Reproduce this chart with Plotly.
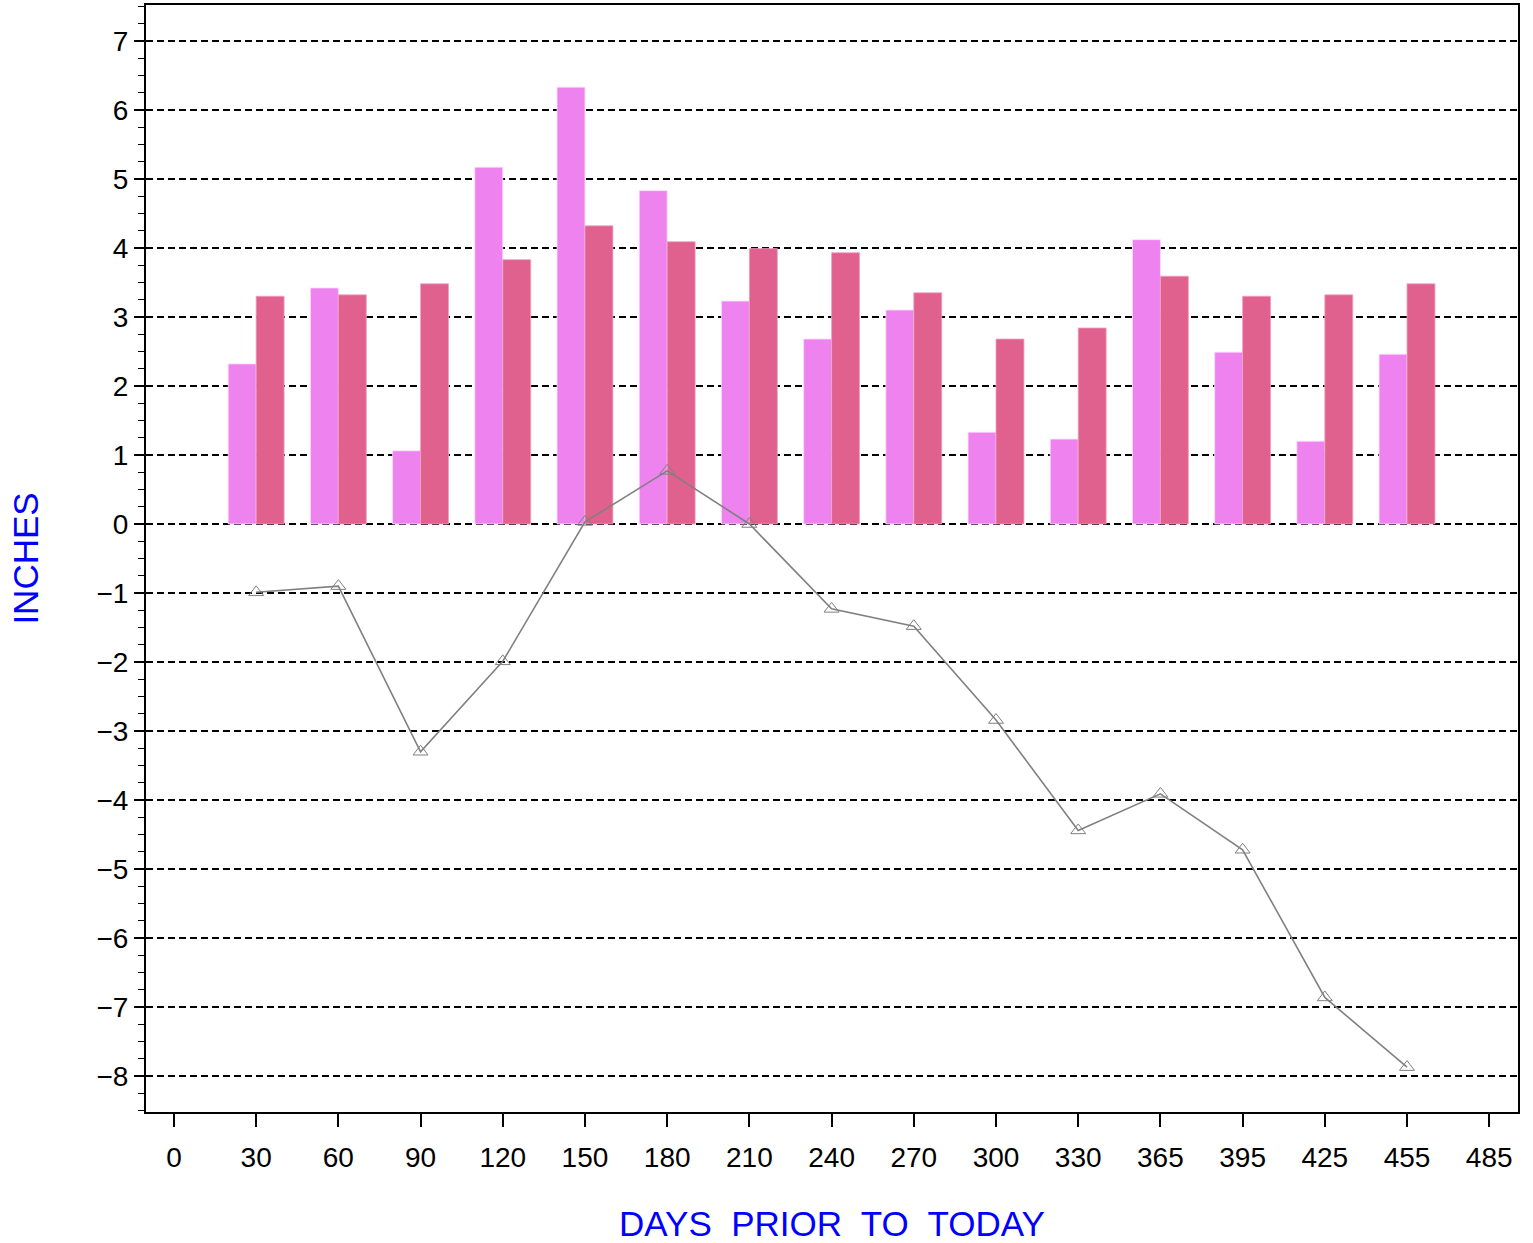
import plotly.graph_objects as go

# Data
day_labels = ["0", "30", "60", "90", "120", "150", "180", "210", "240", "270",
              "300", "330", "365", "395", "425", "455", "485"]
bar_days = ["30", "60", "90", "120", "150", "180", "210", "240", "270",
            "300", "330", "365", "395", "425", "455"]
observed = [2.32, 3.42, 1.06, 5.17, 6.33, 4.83, 3.23, 2.68, 3.10, 1.33,
            1.23, 4.12, 2.49, 1.20, 2.46]
normal = [3.30, 3.32, 3.48, 3.83, 4.32, 4.09, 3.99, 3.93, 3.35, 2.68,
          2.84, 3.59, 3.30, 3.32, 3.48]
departure = [-0.99, -0.90, -3.30, -1.99, 0.03, 0.77, 0.00, -1.23, -1.48,
             -2.84, -4.44, -3.91, -4.72, -6.86, -7.87]
y_ticks = list(range(-8, 8))
y_labels = [str(v).replace("-", "\u2212") for v in y_ticks]

pos_all = list(range(len(day_labels)))
pos_bars = [day_labels.index(d) for d in bar_days]

FONT = "Liberation Sans, Arial, Helvetica, sans-serif"

fig = go.Figure()
fig.add_trace(go.Bar(x=pos_bars, y=observed, name="Observed",
                     marker=dict(color="#EE82EE",
                                 line=dict(color="rgba(255,220,255,0.8)", width=1))))
fig.add_trace(go.Bar(x=pos_bars, y=normal, name="Normal",
                     marker=dict(color="#E0608E",
                                 line=dict(color="rgba(240,160,190,0.8)", width=1))))
fig.add_trace(go.Scatter(x=pos_bars, y=departure, mode="lines+markers",
                         name="Departure",
                         line=dict(color="#808080", width=1.6),
                         marker=dict(symbol="triangle-up-open", size=13,
                                     color="#808080",
                                     line=dict(color="#808080", width=1))))

fig.update_layout(
    width=1533, height=1243,
    margin=dict(l=146, r=15, t=5, b=131, autoexpand=False),
    paper_bgcolor="white", plot_bgcolor="white",
    barmode="group", bargap=0.32, bargroupgap=0,
    showlegend=False,
    font=dict(family=FONT, color="black", size=28),
)
fig.update_xaxes(
    range=[-0.34, 16.35], automargin=False,
    tickmode="array", tickvals=pos_all, ticktext=day_labels,
    ticks="outside", ticklen=13, tickwidth=1.5, tickcolor="black",
    ticklabelstandoff=6,
    showline=True, linecolor="black", linewidth=2, mirror=True,
    showgrid=False, zeroline=False,
    tickfont=dict(size=28, family=FONT, color="black"),
    title=dict(text="DAYS  PRIOR  TO  TODAY", standoff=40,
               font=dict(size=35, family=FONT, color="#0000FF")),
)
fig.update_yaxes(
    range=[-8.52, 7.52], automargin=False,
    tickmode="array", tickvals=y_ticks, ticktext=y_labels,
    ticks="outside", ticklen=10, tickwidth=1.5, tickcolor="black",
    minor=dict(dtick=0.25, ticks="outside", ticklen=6, tickwidth=1.2,
               tickcolor="black", showgrid=False),
    showline=True, linecolor="black", linewidth=2, mirror=True,
    showgrid=True, gridcolor="black", gridwidth=1.8, griddash="7px,4px",
    zeroline=False,
    tickfont=dict(size=28, family=FONT, color="black"),
    title=dict(text="INCHES", standoff=47,
               font=dict(size=35, family=FONT, color="#0000FF")),
)

fig.write_html("out.html", config={"displayModeBar": False},
               post_script="document.body.style.margin='0';")
